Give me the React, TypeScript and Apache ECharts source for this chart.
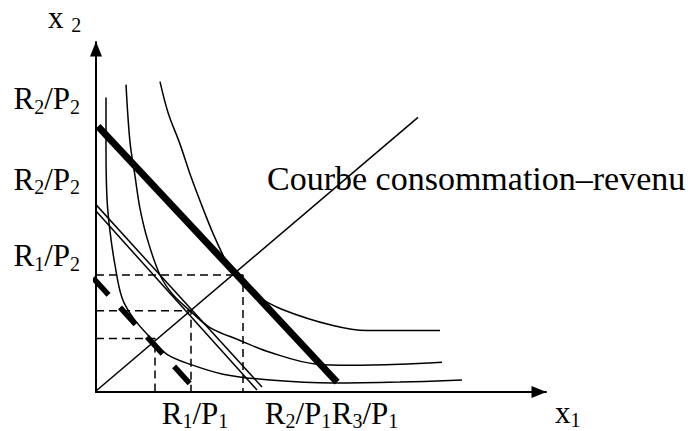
import React, { useEffect, useRef } from "react";
import * as echarts from "echarts";

// Coordinates in diagram units: x = quantity of good 1, y = quantity of good 2
const X_TICK_LABELS = ["R1/P1", "R2/P1", "R3/P1"];
const X_TICK_VALUES = [99, 202, 269];
const Y_TICK_LABELS = ["R2/P2", "R2/P2", "R1/P2"];
const Y_TICK_VALUES = [296, 214.5, 137.5];

// budget lines
const budgetThick = [[2, 268], [241, 10]];
const budgetDoubleA = [[-4, 187], [161, 2]];
const budgetDoubleB = [[-1, 190], [166, 5]];
const budgetDashed = [[-3, 115], [97, 5]];
// income-consumption curve
const incomeConsumption = [[0, 1], [322, 277]];
// indifference curves
const indiff1 = [[10, 297], [10, 245], [11, 195], [14, 162], [19, 128], [26, 95], [37, 75], [56, 53], [71, 38], [94, 28], [127, 18], [174, 12], [237, 9], [304, 10], [366, 12]];
const indiff2 = [[30, 310], [34, 252], [39, 218], [44, 185], [52, 152], [64, 118], [77, 98], [94, 82], [114, 65], [144, 52], [174, 40], [221, 28], [254, 27], [304, 28], [346, 30]];
const indiff3 = [[64, 313], [72, 282], [84, 250], [95, 217], [107, 185], [117, 160], [129, 134], [136, 123], [149, 108], [159, 98], [187, 83], [237, 67], [271, 62], [304, 62], [344, 62]];
// optimum guides
const guide1 = [[0, 54], [59, 54], [59, 0]];
const guide2 = [[0, 82], [95, 82], [95, 0]];
const guide3 = [[0, 118], [147, 118], [147, 0]];

const FONT = "'Liberation Serif', 'Times New Roman', serif";
const rich = {
  n: { fontFamily: FONT, fontSize: 31, lineHeight: 36, color: "#000", verticalAlign: "middle" as const },
  s: { fontFamily: FONT, fontSize: 20, lineHeight: 20, color: "#000", verticalAlign: "bottom" as const },
};
const toRich = (label: string) =>
  label
    .split(/(\d)/)
    .filter((t) => t.length > 0)
    .map((t) => (/\d/.test(t) ? `{s|${t}}` : `{n|${t}}`))
    .join("");

export default function App() {
  const ref = useRef<HTMLDivElement>(null);
  useEffect(() => {
    if (!ref.current) return;
    const chart = echarts.init(ref.current, null, { renderer: "svg" });
    const line = (data: number[][], width: number, extra: any = {}) => ({
      type: "line",
      data,
      symbol: "none",
      clip: false,
      silent: true,
      lineStyle: { color: "#000", width, ...extra },
    });
    const curve = (data: number[][]) => ({ ...line(data, 1.5), smooth: 0.35 });
    chart.setOption({
      animation: false,
      backgroundColor: "#fff",
      grid: { left: 96, top: 42, right: 146, bottom: 36 },
      xAxis: {
        type: "value",
        min: 0,
        max: 450,
        splitLine: { show: false },
        axisTick: { show: false },
        axisLine: {
          show: true,
          onZero: false,
          symbol: ["none", "triangle"],
          symbolSize: [12, 15],
          symbolOffset: [0, -7],
          lineStyle: { color: "#000", width: 2 },
        },
        axisLabel: {
          customValues: X_TICK_VALUES,
          margin: 3,
          rich,
          formatter: (v: number) => {
            const i = X_TICK_VALUES.indexOf(v);
            return i >= 0 ? toRich(X_TICK_LABELS[i]) : "";
          },
        },
      },
      yAxis: {
        type: "value",
        min: 0,
        max: 353,
        splitLine: { show: false },
        axisTick: { show: false },
        axisLine: {
          show: true,
          onZero: false,
          symbol: ["none", "triangle"],
          symbolSize: [12, 15],
          symbolOffset: [0, -7],
          lineStyle: { color: "#000", width: 2 },
        },
        axisLabel: {
          customValues: Y_TICK_VALUES,
          margin: 16,
          rich,
          formatter: (v: number) => {
            const i = Y_TICK_VALUES.indexOf(v);
            return i >= 0 ? toRich(Y_TICK_LABELS[i]) : "";
          },
        },
      },
      graphic: [
        {
          type: "text",
          x: 48,
          y: -1,
          style: { text: "{n|x }{s|2}", rich, verticalAlign: "top", align: "left" },
        },
        {
          type: "text",
          x: 555,
          y: 394,
          style: { text: "{n|x}{s|1}", rich, verticalAlign: "top", align: "left" },
        },
        {
          type: "text",
          x: 267,
          y: 178.5,
          z: 0,
          style: {
            text: "Courbe consommation–revenu",
            fontFamily: FONT,
            fontSize: 34,
            fill: "#000",
            verticalAlign: "middle",
            align: "left",
          },
        },
      ],
      series: [
        line(guide1, 1.5, { type: [8, 5] }),
        line(guide2, 1.5, { type: [8, 5] }),
        line(guide3, 1.5, { type: [8, 5] }),
        curve(indiff1),
        curve(indiff2),
        curve(indiff3),
        line(incomeConsumption, 1.5),
        line(budgetDoubleA, 1.5),
        line(budgetDoubleB, 1.5),
        line(budgetDashed, 5.5, { type: [23, 17], cap: "butt" }),
        line(budgetThick, 7),
      ],
    });
    return () => chart.dispose();
  }, []);
  return (
    <div
      ref={ref}
      style={{ position: "absolute", left: 0, top: 0, width: 692, height: 431, background: "#fff" }}
    />
  );
}
